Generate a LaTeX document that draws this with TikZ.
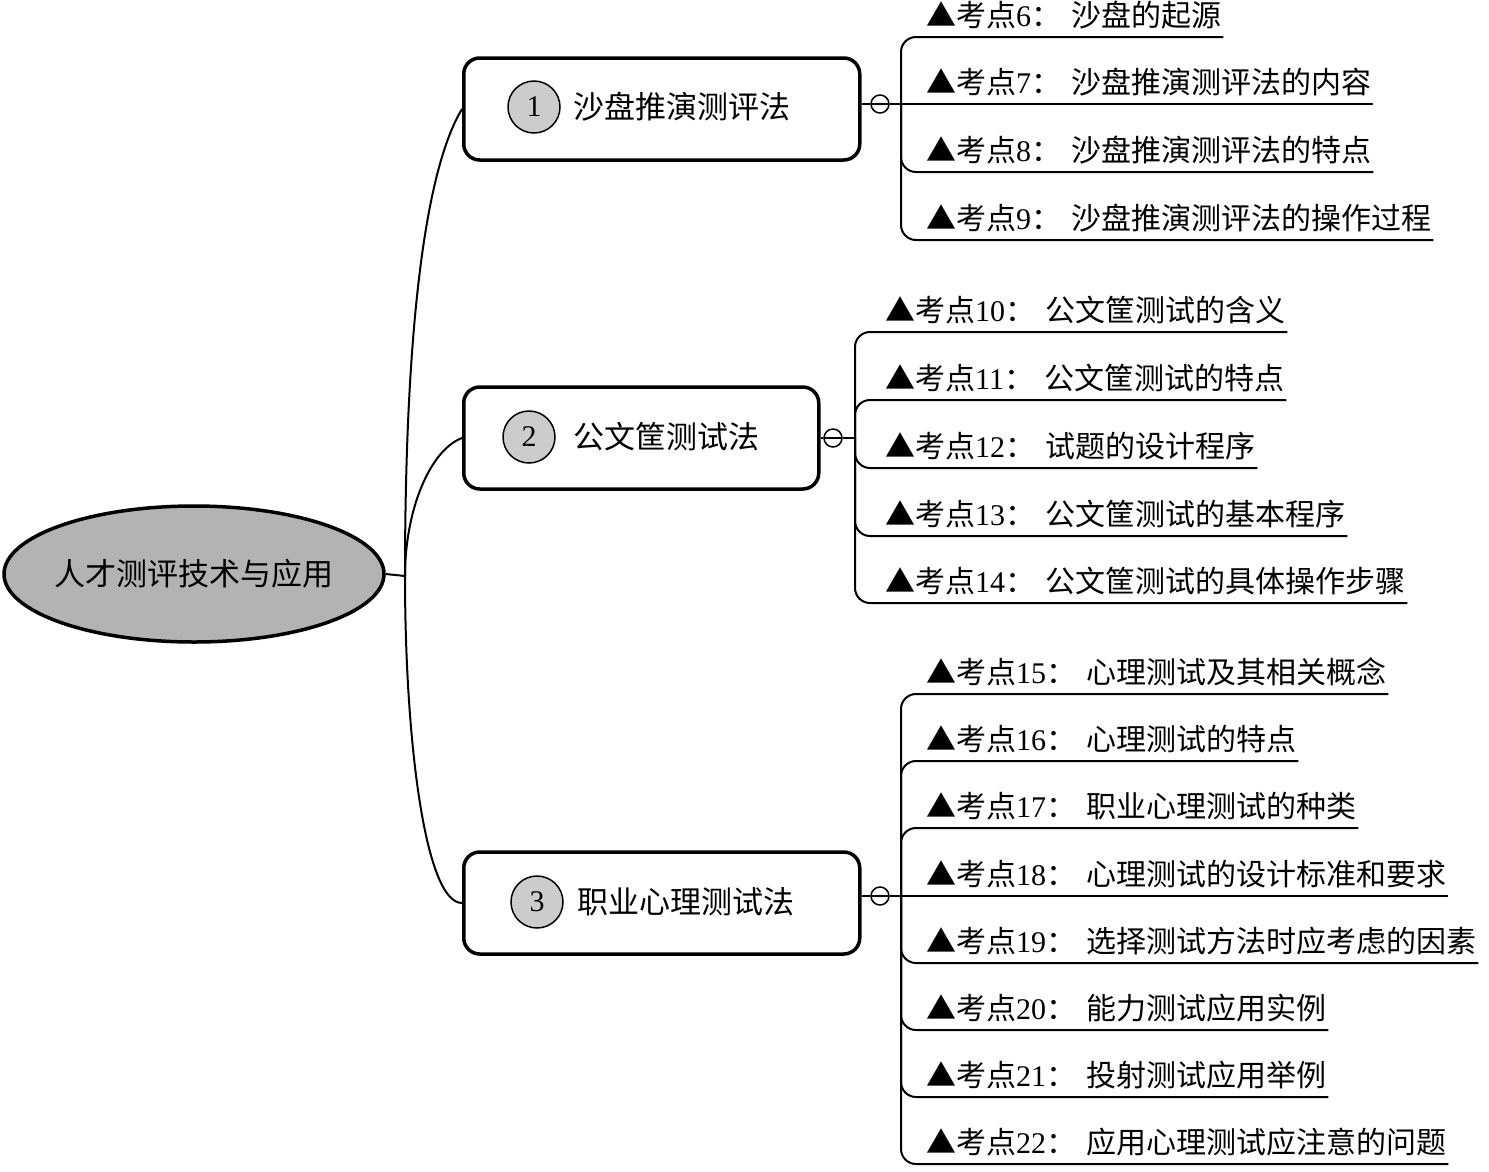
\documentclass[tikz,border=0pt]{standalone}
\usepackage{fontspec}
\setmainfont{Liberation Serif}
\newfontfamily\cjk{Noto Sans CJK SC}
\usetikzlibrary{shapes.geometric}
\definecolor{rootgray}{HTML}{B3B3B3}
\definecolor{numgray}{HTML}{CCCCCC}
\newcommand{\kaodian}[2]{{\cjk ▲考点}#1{\cjk ：}\hspace{10pt}{\cjk #2}}

\begin{document}
\begin{tikzpicture}[x=1pt,y=-1pt,
  txt/.style={font=\fontsize{31pt}{36pt}\selectfont},
  rootnode/.style={ellipse,draw,line width=3.5pt,fill=rootgray,minimum width=380pt,minimum height=136pt,inner sep=0pt},
  branchbox/.style={draw,line width=3.5pt,rounded corners=16pt,minimum height=102pt,anchor=west},
  numcirc/.style={circle,draw,line width=1.5pt,fill=numgray,minimum size=52pt,inner sep=0pt,font=\fontsize{30pt}{36pt}\selectfont},
  fold/.style={circle,draw,line width=1.5pt,minimum size=18pt,inner sep=0pt,
    path picture={\draw[line width=1.5pt] (path picture bounding box.west) -- (path picture bounding box.east);}},
  leaf/.style={font=\fontsize{30pt}{36pt}\selectfont,anchor=south west,inner xsep=2pt,inner ysep=0pt,text depth=10pt},
  stem/.style={line width=2pt},
  twig/.style={line width=2pt,rounded corners=15pt}]
  \useasboundingbox (0,0) rectangle (1489,1171);

  % Root
  \node[rootnode,label={[txt]center:\cjk 人才测评技术与应用}] (root) at (194,574) {};
  \coordinate (r) at (405,576);
  \draw[stem] (root.east) -- (r);

  % Branch 1
  \node[branchbox,minimum width=396pt] (b1) at (462,109) {};
  \node[numcirc] (n1) at (534,107) {1};
  \node[txt,anchor=west] (t1) at (570,107) {\cjk 沙盘推演测评法};
  \node[fold] (c1) at (880,104) {};
  \coordinate (f1) at (901,104);
  \draw[stem] (r) .. controls (405,330) and (425,170) .. (b1.west);
  \draw[stem] (b1.east |- c1) -- (c1.west);
  \draw[stem] (c1.east) -- (f1);

  \node[leaf] (k6) at (924,37) {\kaodian{6}{沙盘的起源}};
  \node[leaf] (k7) at (924,104) {\kaodian{7}{沙盘推演测评法的内容}};
  \node[leaf] (k8) at (924,172) {\kaodian{8}{沙盘推演测评法的特点}};
  \node[leaf] (k9) at (924,240) {\kaodian{9}{沙盘推演测评法的操作过程}};
  \draw[stem] (f1) -- (k7.south east);
  \foreach \k in {6,8,9}
    \draw[twig] (f1) |- (k\k.south east);

  % Branch 2
  \node[branchbox,minimum width=355pt] (b2) at (462,438) {};
  \node[numcirc] (n2) at (529,437) {2};
  \node[txt,anchor=west] (t2) at (570,437) {\cjk 公文筐测试法};
  \node[fold] (c2) at (833,438) {};
  \coordinate (f2) at (855,438);
  \draw[stem] (r) .. controls (405,510) and (430,450) .. (b2.west);
  \draw[stem] (b2.east) -- (c2.west);
  \draw[stem] (c2.east) -- (f2);

  \node[leaf] (k10) at (883,332) {\kaodian{10}{公文筐测试的含义}};
  \node[leaf] (k11) at (883,400) {\kaodian{11}{公文筐测试的特点}};
  \node[leaf] (k12) at (883,468) {\kaodian{12}{试题的设计程序}};
  \node[leaf] (k13) at (883,536) {\kaodian{13}{公文筐测试的基本程序}};
  \node[leaf] (k14) at (883,603) {\kaodian{14}{公文筐测试的具体操作步骤}};
  \foreach \k in {10,...,14}
    \draw[twig] (f2) |- (k\k.south east);

  % Branch 3
  \node[branchbox,minimum width=396pt] (b3) at (462,903) {};
  \node[numcirc] (n3) at (537,902) {3};
  \node[txt,anchor=west] (t3) at (574,902) {\cjk 职业心理测试法};
  \node[fold] (c3) at (880,896) {};
  \coordinate (f3) at (901,896);
  \draw[stem] (r) .. controls (405,740) and (425,903) .. (b3.west);
  \draw[stem] (b3.east |- c3) -- (c3.west);
  \draw[stem] (c3.east) -- (f3);

  \node[leaf] (k15) at (924,694) {\kaodian{15}{心理测试及其相关概念}};
  \node[leaf] (k16) at (924,761) {\kaodian{16}{心理测试的特点}};
  \node[leaf] (k17) at (924,828) {\kaodian{17}{职业心理测试的种类}};
  \node[leaf] (k18) at (924,896) {\kaodian{18}{心理测试的设计标准和要求}};
  \node[leaf] (k19) at (924,963) {\kaodian{19}{选择测试方法时应考虑的因素}};
  \node[leaf] (k20) at (924,1030) {\kaodian{20}{能力测试应用实例}};
  \node[leaf] (k21) at (924,1097) {\kaodian{21}{投射测试应用举例}};
  \node[leaf] (k22) at (924,1164) {\kaodian{22}{应用心理测试应注意的问题}};
  \draw[stem] (f3) -- (k18.south east);
  \foreach \k in {15,16,17,19,20,21,22}
    \draw[twig] (f3) |- (k\k.south east);
\end{tikzpicture}
\end{document}
